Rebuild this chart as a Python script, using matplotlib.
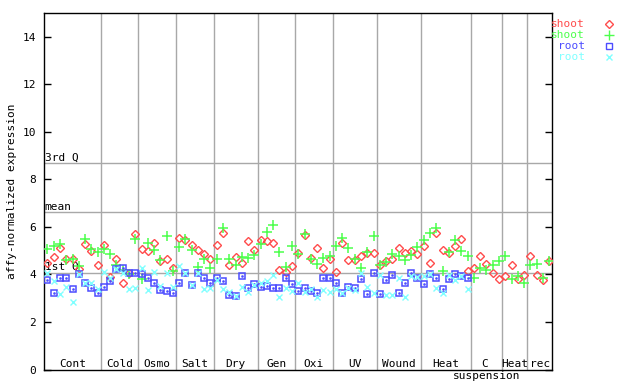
import numpy as np
import matplotlib
matplotlib.use("Agg")
import matplotlib.pyplot as plt
from matplotlib.lines import Line2D

groups = ["Cont", "Cold", "Osmo", "Salt", "Dry", "Gen", "Oxi", "UV", "Wound",
          "Heat", "C\nsuspension", "Heat", "rec"]
group_sizes = [9, 6, 6, 6, 7, 6, 6, 7, 7, 8, 5, 4, 4]

shoot_a = [4.49, 4.74, 5.13, 4.67, 4.64, 4.21, 5.26, 4.98, 4.38,
           5.23, 3.90, 4.63, 3.65, 4.08, 5.69,
           5.09, 4.98, 5.33, 4.57, 4.63, 4.25,
           5.55, 5.44, 5.23, 5.02, 4.84, 4.64,
           5.23, 5.76, 4.38, 4.72, 4.47, 5.41, 5.01,
           5.44, 5.40, 5.34, 4.18, 4.11, 4.35,
           4.92, 5.68, 4.71, 5.13, 4.25, 4.67,
           4.11, 5.33, 4.60, 4.60, 4.77, 4.91, 4.91,
           4.38, 4.57, 4.67, 5.13, 4.91, 4.98, 4.86,
           5.20, 4.50, 5.76, 5.02, 4.92, 5.21, 5.47, 4.14,
           4.25, 4.79, 4.43, 4.04, 3.79,
           3.93, 4.38, 3.79, 3.97,
           4.79, 3.97, 3.76, 4.55]
shoot_b = [5.09, 5.19, 5.30, 4.60, 4.63, 4.35, 5.47, 5.06, 4.95,
           5.09, 4.84, 4.39, 4.18, 4.01, 5.51,
           3.79, 5.33, 5.01, 4.60, 5.62, 4.13,
           5.16, 5.48, 5.01, 4.32, 4.64, 4.25,
           4.63, 5.96, 4.63, 4.38, 4.74, 4.70, 4.81,
           5.30, 5.79, 6.07, 4.93, 4.32, 5.19,
           4.88, 5.72, 4.67, 4.46, 4.71, 4.79,
           5.19, 5.55, 5.13, 4.67, 4.29, 4.95, 5.61,
           4.38, 4.52, 4.85, 4.79, 4.60, 4.81, 5.16,
           5.44, 5.75, 5.97, 4.14, 4.96, 5.44, 4.98, 4.76,
           3.87, 4.29, 4.18, 4.38, 4.58,
           4.76, 3.79, 3.93, 3.66,
           4.38, 4.46, 3.87, 4.55]
root_a = [3.75, 3.20, 3.83, 3.87, 3.38, 4.00, 3.62, 3.45, 3.20,
          3.48, 3.72, 4.21, 4.25, 4.08, 4.08,
          4.00, 3.83, 3.62, 3.33, 3.29, 3.20,
          3.62, 4.04, 3.55, 4.06, 3.87, 3.66,
          3.83, 3.72, 3.12, 3.10, 3.93, 3.45, 3.59,
          3.48, 3.52, 3.45, 3.41, 3.83, 3.58,
          3.32, 3.45, 3.29, 3.20, 3.83, 3.83,
          3.66, 3.20, 3.48, 3.41, 3.79, 3.16, 4.04,
          3.16, 3.76, 3.96, 3.20, 3.66, 4.04, 3.86,
          3.58, 4.00, 3.87, 3.37, 3.79, 4.00, 3.93, 3.83]
root_b = [4.04, 3.72, 3.16, 3.48, 2.82, 4.00, 3.62, 3.62, 3.40,
          4.11, 3.83, 4.21, 4.07, 3.38, 3.41,
          4.25, 3.33, 4.11, 3.50, 4.04, 3.48,
          4.37, 4.04, 3.55, 4.06, 3.38, 3.41,
          3.76, 3.38, 3.27, 3.10, 3.48, 3.24, 3.55,
          3.66, 3.72, 3.97, 3.06, 3.45, 3.31,
          3.66, 3.24, 3.37, 3.06, 3.34, 3.24,
          3.40, 3.20, 3.45, 3.34, 4.04, 3.48, 3.20,
          3.96, 3.12, 3.12, 3.83, 3.06, 3.93, 3.90,
          3.93, 4.00, 3.45, 3.20, 3.96, 3.76, 3.93, 3.37]

quartiles = {"3rd Q": 8.67, "mean": 6.61, "1st Q": 4.08}

RED, GREEN, BLUE, CYAN = "#ff4c4c", "#4cff4c", "#4c4cff", "#80ffff"
GRID = "#a8a8a8"
FONT = "DejaVu Sans Mono"

n = sum(group_sizes)
x = np.arange(n) + 0.5


def pad(vals):
    out = np.full(n, np.nan)
    out[:len(vals)] = vals
    return out


fig = plt.figure(figsize=(6.4, 3.84), dpi=100)
ax = fig.add_axes([44.3 / 640, 1 - 369.5 / 384, 508 / 640, 356.5 / 384])
ax.set_xlim(0, n)
ax.set_ylim(0, 15)

bounds = np.cumsum(group_sizes)
for b in bounds[:-1]:
    ax.axvline(b, color=GRID, lw=1, zorder=1)
for name, val in quartiles.items():
    ax.axhline(val, color=GRID, lw=1, zorder=1)
    ax.text(0.05, val + 0.03, name, fontsize=8, family=FONT, va="bottom", ha="left")

ax.plot(x, shoot_a, ls="none", marker="D", ms=4, mfc="none", mec=RED, mew=1, zorder=3)
ax.plot(x, shoot_b, ls="none", marker="+", ms=7, mec=GREEN, mew=1.1, zorder=3)
ax.plot(x, pad(root_a), ls="none", marker="s", ms=4.5, mfc="none", mec=BLUE, mew=1.1, zorder=3)
ax.plot(x, pad(root_a), ls="none", marker="s", ms=0.8, mfc=BLUE, mec=BLUE, zorder=3)
ax.plot(x, pad(root_b), ls="none", marker="x", ms=5, mec=CYAN, mew=1.0, zorder=3)

starts = np.concatenate([[0], bounds[:-1]])
for name, s, size in zip(groups, starts, group_sizes):
    cx = s + size / 2
    if "\n" in name:
        top, bottom = name.split("\n")
        ax.text(cx - 0.3, 0.12, top, fontsize=8, family=FONT, ha="center", va="baseline")
        ax.text(cx, -0.42, bottom, fontsize=8, family=FONT, ha="center", va="baseline",
                clip_on=False)
    else:
        ax.text(cx, 0.12, name, fontsize=8, family=FONT, ha="center", va="baseline")

ax.set_yticks([0, 2, 4, 6, 8, 10, 12, 14])
ax.set_xticks([])
ax.tick_params(axis="y", direction="in", length=5, width=1, right=True,
               labelsize=8, pad=6)
for lab in ax.get_yticklabels():
    lab.set_family(FONT)
ax.set_ylabel("affy-normalized expression", fontsize=8, family=FONT, labelpad=4)
for sp in ax.spines.values():
    sp.set_linewidth(1)

# legend drawn outside on the right
legend_rows = [("shoot", RED, "D", 4, "none"), ("shoot", GREEN, "+", 7, GREEN),
               ("root", BLUE, "s", 4.5, "none"), ("root", CYAN, "x", 5, CYAN)]
for k, (lab, col, mk, ms, mfc) in enumerate(legend_rows):
    yy = 1 - (24 + 11 * k) / 384
    fig.text(585 / 640, yy, lab, color=col, fontsize=8, family=FONT, ha="right", va="center")
    fig.add_artist(Line2D([609 / 640], [yy], marker=mk, ms=ms, mfc=mfc, mec=col,
                          mew=1, ls="none", transform=fig.transFigure))

fig.savefig("out.png", dpi=100)
